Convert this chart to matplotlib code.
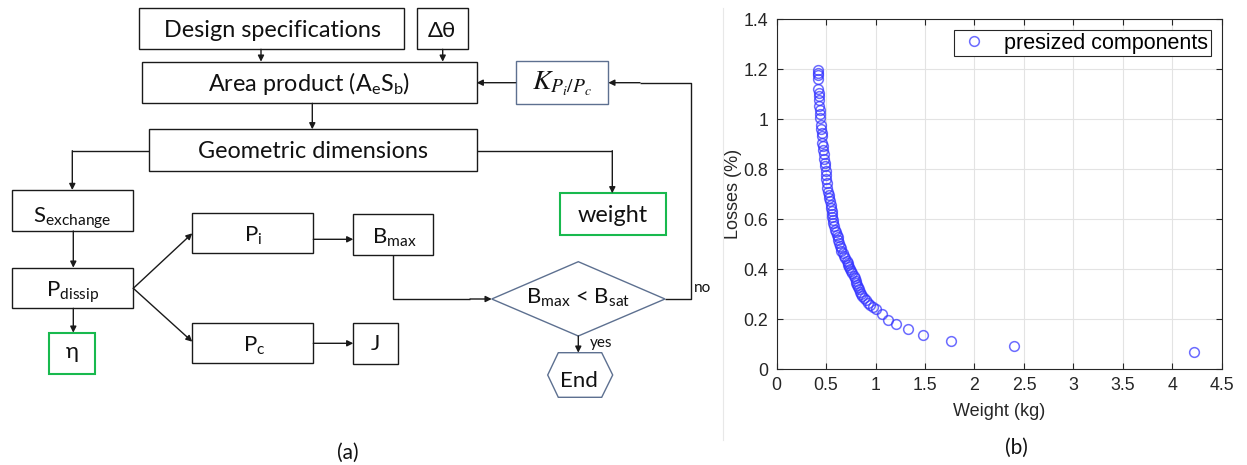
import matplotlib
matplotlib.use("Agg")
import matplotlib.pyplot as plt
from matplotlib.patches import Rectangle, Polygon

plt.rcParams['mathtext.fontset'] = 'custom'
plt.rcParams['mathtext.rm'] = 'Lato'
plt.rcParams['mathtext.it'] = 'Lato:italic'
plt.rcParams['mathtext.bf'] = 'Lato:bold'

# ---------------- data (scatter) ----------------
weight_kg = [0.415, 0.418, 0.42, 0.424, 0.422, 0.426, 0.43, 0.434, 0.432, 0.436,
             0.44, 0.444, 0.446, 0.45, 0.455, 0.46, 0.462, 0.467, 0.472, 0.477,
             0.48, 0.485, 0.49, 0.495, 0.50, 0.505, 0.51, 0.515, 0.525, 0.53,
             0.535, 0.542, 0.55, 0.555, 0.56, 0.562, 0.565, 0.57, 0.575, 0.582,
             0.59, 0.60, 0.61, 0.617, 0.625, 0.632, 0.64, 0.648, 0.655, 0.668,
             0.68, 0.695, 0.71, 0.718, 0.725, 0.733, 0.74, 0.752, 0.765, 0.778,
             0.79, 0.798, 0.805, 0.812, 0.82, 0.83, 0.84, 0.852, 0.866, 0.88,
             0.90, 0.92, 0.943, 0.97, 1.0, 1.065, 1.125, 1.205, 1.333, 1.476,
             1.767, 2.395, 4.22]
losses_pct = [1.195, 1.185, 1.175, 1.16, 1.12, 1.105, 1.09, 1.075, 1.05, 1.035,
              1.02, 1.005, 0.975, 0.96, 0.945, 0.93, 0.905, 0.89, 0.875, 0.86,
              0.84, 0.825, 0.81, 0.79, 0.775, 0.76, 0.745, 0.725, 0.709, 0.695,
              0.683, 0.67, 0.656, 0.645, 0.633, 0.62, 0.609, 0.595, 0.583, 0.57,
              0.556, 0.546, 0.536, 0.526, 0.516, 0.504, 0.492, 0.482, 0.473, 0.463,
              0.453, 0.443, 0.433, 0.425, 0.416, 0.408, 0.399, 0.391, 0.383, 0.373,
              0.363, 0.354, 0.345, 0.337, 0.329, 0.319, 0.309, 0.30, 0.292, 0.284,
              0.276, 0.266, 0.256, 0.248, 0.239, 0.22, 0.198, 0.179, 0.159, 0.136,
              0.113, 0.092, 0.067]
x_ticks = [0, 0.5, 1, 1.5, 2, 2.5, 3, 3.5, 4, 4.5]
x_tick_labels = ['0', '0.5', '1', '1.5', '2', '2.5', '3', '3.5', '4', '4.5']
y_ticks = [0, 0.2, 0.4, 0.6, 0.8, 1.0, 1.2, 1.4]
y_tick_labels = ['0', '0.2', '0.4', '0.6', '0.8', '1', '1.2', '1.4']
series_label = 'presized components'

W, H = 1247, 465
fig = plt.figure(figsize=(W / 100, H / 100), dpi=100)

# ---------------- flowchart (pixel coordinates) ----------------
fa = fig.add_axes([0, 0, 1, 1])
fa.set_xlim(0, W)
fa.set_ylim(H, 0)
fa.axis('off')

BLACK = '#1a1a1a'
SLATE = '#5d7090'
GREEN = '#18b94e'
FONT = 'Lato'
LW = 1.0
FS = 16.8


def box(x0, y0, x1, y1, ec=BLACK, lw=LW):
    fa.add_patch(Rectangle((x0, y0), x1 - x0, y1 - y0, fill=False, ec=ec, lw=lw))


def txt(x, y, s, size=FS, **kw):
    fa.text(x, y, s, ha='center', va='baseline', fontsize=size, family=FONT,
            color='#111111', **kw)


def line(xs, ys):
    fa.plot(xs, ys, color=BLACK, lw=LW, solid_capstyle='butt')


def arrow(x0, y0, x1, y1):
    fa.annotate('', xy=(x1, y1), xytext=(x0, y0),
                arrowprops=dict(arrowstyle='-|>', color=BLACK, lw=LW,
                                mutation_scale=9, shrinkA=0, shrinkB=0))


# boxes
box(139.3, 8.3, 404.3, 49.3)
box(417.3, 8.3, 468.3, 49.3)
box(142.3, 61.7, 476.7, 103.3)
box(515.7, 60.7, 608.3, 104.3, ec=SLATE)
box(149, 129.3, 476.7, 171)
box(11.7, 190, 133.3, 231)
box(560, 193.3, 665.7, 235, ec=GREEN, lw=1.5)
box(11.7, 267.7, 133.3, 308.3)
box(49.3, 332.7, 95, 374.3, ec=GREEN, lw=1.5)
box(192.3, 213.3, 313.3, 253.3)
box(353.3, 214.3, 433.3, 255)
box(192.3, 322.7, 313.3, 363.3)
box(353.3, 322.7, 398.3, 364)

# diamond and end hexagon
fa.add_patch(Polygon([(491.7, 299), (578.3, 261.7), (665, 299), (578.3, 336)],
                     closed=True, fill=False, ec=SLATE, lw=LW))
fa.add_patch(Polygon([(547.7, 375), (558.3, 352.7), (601.7, 352.7), (612.7, 375),
                      (601.7, 397.3), (558.3, 397.3)],
                     closed=True, fill=False, ec=SLATE, lw=LW))

# texts
txt(272, 37.3, 'Design specifications')
txt(442, 36.7, 'Δθ', size=16)
txt(309, 90.7, 'Area product (' + r'$\mathrm{A_{e}S_{b}}$' + ')')
fa.text(562.5, 90, r'$K_{P_i/P_c}$', ha='center', va='baseline', fontsize=20,
        math_fontfamily='stix', color='#111111')
txt(312.5, 158.3, 'Geometric dimensions')
txt(613, 221.7, 'weight')
txt(72, 222.7, r'$\mathrm{S_{exchange}}$', size=16)
txt(72.5, 296.7, r'$\mathrm{P_{dissip}}$', size=16)
txt(72.3, 358, 'η', size=16)
txt(253, 241.7, r'$\mathrm{P_{i}}$', size=16)
txt(394, 243.3, r'$\mathrm{B_{max}}$', size=16)
txt(254, 351.7, r'$\mathrm{P_{c}}$', size=16)
txt(375, 350, 'J', size=16)
txt(578.3, 303.3, r'$\mathrm{B_{max}}$ < $\mathrm{B_{sat}}$', size=16)
txt(579, 386.7, 'End', size=16)
fa.text(590, 346.5, 'yes', ha='left', va='baseline', fontsize=11, family=FONT,
        color='#111111')
fa.text(694, 291.7, 'no', ha='left', va='baseline', fontsize=11, family=FONT,
        color='#111111')
fa.text(348, 453, '(a)', ha='center', va='center', fontsize=15, family=FONT,
        color='#111111')
fa.text(1016.7, 448, '(b)', ha='center', va='center', fontsize=15, family=FONT,
        color='#111111')

# connectors
arrow(261, 49.3, 261, 61.7)
arrow(442.7, 49.3, 442.7, 61.7)
arrow(515.7, 82.7, 476.7, 82.7)
arrow(312.3, 103.3, 312.3, 129.3)
line([149, 72.3], [150.7, 150.7])
arrow(72.3, 150.7, 72.3, 190)
line([476.7, 612.3], [150.7, 150.7])
arrow(612.3, 150.7, 612.3, 193.3)
arrow(73.3, 231, 73.3, 267.7)
arrow(73.3, 308.3, 73.3, 332.7)
arrow(133.3, 288.3, 192.3, 233.3)
arrow(133.3, 288.3, 192.3, 341.7)
arrow(313.3, 239.3, 353.3, 239.3)
arrow(313.3, 343.3, 353.3, 343.3)
line([393.3, 393.3, 470], [255, 299, 299])
arrow(470, 299, 491.7, 299)
line([665, 691, 691, 640], [299, 299, 82.7, 82.7])
arrow(640, 82.7, 608.3, 82.7)
arrow(578.3, 336, 578.3, 352.7)

# faint separator
fa.plot([723, 723], [8, 440], color='#e8e8e8', lw=0.8)

# ---------------- scatter plot ----------------
L, R, T, B = 776.5, 1222, 19, 369
ax = fig.add_axes([L / W, 1 - B / H, (R - L) / W, (B - T) / H])
ax.plot(weight_kg, losses_pct, 'o', ms=7, mfc='none', mec=(0.2, 0.2, 1.0, 0.72),
        mew=1.1, label=series_label)
ax.set_xlim(0, 4.5)
ax.set_ylim(0, 1.4)
ax.set_xticks(x_ticks)
ax.set_xticklabels(x_tick_labels)
ax.set_yticks(y_ticks)
ax.set_yticklabels(y_tick_labels)
ax.grid(True, color='#e3e3e3', lw=0.8)
ax.set_axisbelow(True)
ax.tick_params(direction='in', length=4, width=0.8, top=True, right=True,
               labelsize=12.8, colors='#262626', pad=6)
for lab in ax.get_xticklabels() + ax.get_yticklabels():
    lab.set_family('Liberation Sans')
for sp in ax.spines.values():
    sp.set_color('#262626')
    sp.set_linewidth(0.8)
ax.set_xlabel('Weight (kg)', fontsize=13, family='Liberation Sans', color='#262626',
              labelpad=6)
ax.set_ylabel('Losses (%)', fontsize=13, family='Liberation Sans', color='#262626',
              labelpad=1)
leg = ax.legend(loc='upper right', bbox_to_anchor=(1210.7 / W, 1 - 30 / H),
                bbox_transform=fig.transFigure, borderaxespad=0, fancybox=False,
                edgecolor='#262626', prop={'family': 'Liberation Sans', 'size': 15.5},
                borderpad=0.12, handletextpad=0.6, handlelength=1.6, framealpha=1)
leg.get_frame().set_linewidth(0.8)

fig.savefig('out.png', dpi=100)
